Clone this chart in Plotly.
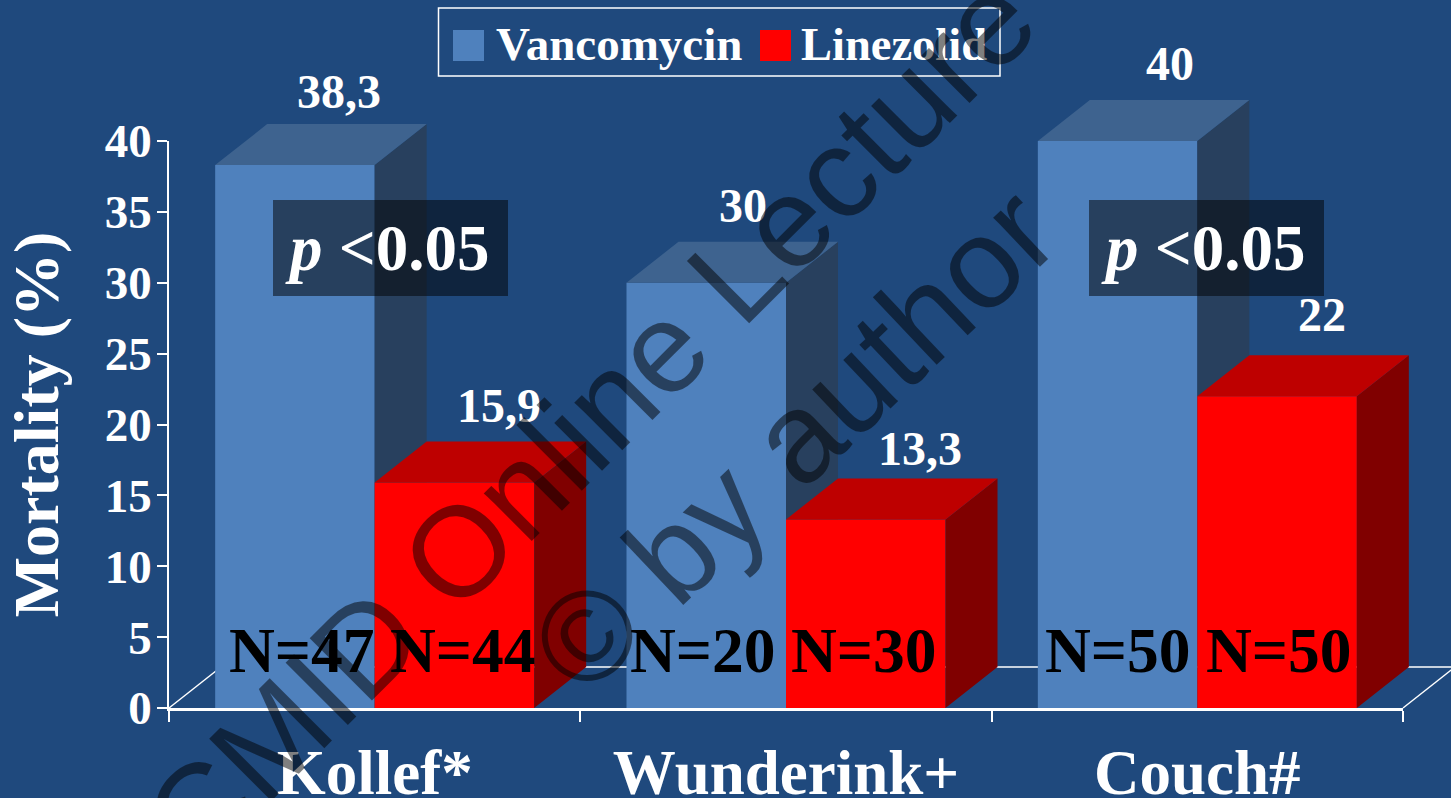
import plotly.graph_objects as go

# Study results
studies = ["Kollef*", "Wunderink+", "Couch#"]
vancomycin = [38.3, 30, 40]
linezolid = [15.9, 13.3, 22]
n_vancomycin = [47, 20, 50]
n_linezolid = [44, 30, 50]
y_ticks = [0, 5, 10, 15, 20, 25, 30, 35, 40]

# Page geometry in pixels
W, H = 1451, 798
LEFT, RIGHT, TOP, BOTTOM = 169, 1403, 141, 708
PLOT_W, PLOT_H = RIGHT - LEFT, BOTTOM - TOP
PX_X = PLOT_W / 3
PX_Y = PLOT_H / 40

# Pseudo-3D extrusion of the columns, in axis units
BAR_W = 159.5 / PX_X
DEPTH_X = 52 / PX_X
DEPTH_Y = 41 / PX_Y
centers = [0.5, 1.5, 2.5]

SERIF = "Liberation Serif"
BG = "#1F497D"
SHADE = "rgba(0,0,0,0.5)"

# The column layers span the whole page at the same scale as the visible axes,
# so the extruded tops and the labels above them are not clipped at the 40 line.
PAGE_X_RANGE = [-LEFT / PX_X, (W - LEFT) / PX_X]
PAGE_Y_RANGE = [-(H - BOTTOM) / PX_Y, BOTTOM / PX_Y]


def to_x(px):
    return (px - LEFT) / PX_X


def to_y(py):
    return (BOTTOM - py) / PX_Y


def face_outlines(values, offset):
    """Return closed side and top outlines for a row of extruded columns."""
    side_x, side_y, top_x, top_y = [], [], [], []
    for c, v in zip(centers, values):
        x0 = c + offset
        x1 = x0 + BAR_W
        side_x += [x1, x1 + DEPTH_X, x1 + DEPTH_X, x1, x1, None]
        side_y += [0, DEPTH_Y, v + DEPTH_Y, v, 0, None]
        top_x += [x0, x1, x1 + DEPTH_X, x0 + DEPTH_X, x0, None]
        top_y += [v, v, v + DEPTH_Y, v + DEPTH_Y, v, None]
    return side_x, side_y, top_x, top_y


def add_column_row(fig, values, offset, front, top, side, xa, ya, name):
    fig.add_trace(go.Bar(x=centers, y=values, width=BAR_W, offset=offset, name=name,
                         marker=dict(color=front, line_width=0),
                         showlegend=False, hoverinfo="skip", xaxis=xa, yaxis=ya))
    sx, sy, tx, ty = face_outlines(values, offset)
    for fx, fy, colour in ((sx, sy, side), (tx, ty, top)):
        fig.add_trace(go.Scatter(x=fx, y=fy, mode="lines", fill="toself", fillcolor=colour,
                                 line=dict(width=0, color=colour),
                                 showlegend=False, hoverinfo="skip", xaxis=xa, yaxis=ya))


fig = go.Figure()
add_column_row(fig, vancomycin, -BAR_W, "#4F81BD", "#3E638F", "#28405E", "x", "y", "Vancomycin")
# Linezolid sits on an overlaid axis pair so its columns cover the vancomycin side walls
add_column_row(fig, linezolid, 0, "#FF0000", "#BE0000", "#800000", "x2", "y2", "Linezolid")
# Placeholder so the visible axis pair gets a subplot of its own
fig.add_trace(go.Scatter(x=[0], y=[0], mode="markers", marker=dict(opacity=0),
                         showlegend=False, hoverinfo="skip", xaxis="x3", yaxis="y3"))

annotations = []


def text(x, y, s, size, color="white", anchor="center", xshift=0, yshift=0):
    annotations.append(dict(xref="x", yref="y", x=x, y=y, text=f"<b>{s}</b>", showarrow=False,
                            xanchor=anchor, yanchor="middle", xshift=xshift, yshift=yshift,
                            font=dict(family=SERIF, size=size, color=color)))


# Value labels sit above the back edge of each column
value_nudge_v = [(44, 33), (37, 36), (52, 37)]
value_nudge_l = [(45, 36), (54, 30), (45, 41)]
for values, offset, nudges in ((vancomycin, -BAR_W, value_nudge_v), (linezolid, 0, value_nudge_l)):
    for c, v, (dx, dy) in zip(centers, values, nudges):
        text(c + offset + BAR_W / 2, v + DEPTH_Y, str(v).replace(".", ","), 48,
             xshift=dx, yshift=dy)

# Sample sizes across the foot of each column
n_nudge = [7, -3, 0]
for c, nv, nl, dx in zip(centers, n_vancomycin, n_linezolid, n_nudge):
    text(c - BAR_W / 2, to_y(650), f"N={nv}", 63.5, color="black", xshift=dx)
    text(c + BAR_W / 2, to_y(650), f"N={nl}", 63.5, color="black", xshift=dx + 1.5)

# Significance call-outs: a dark plate with the test result on it
call_out_centers = [390.5, 1206.5]
for cx in call_out_centers:
    text(to_x(cx - 3.5), to_y(248), "<i>p</i> &lt;0.05", 65)

# Legend entries
text(to_x(494), to_y(44), "Vancomycin", 47, anchor="left")
text(to_x(799), to_y(44), "Linezolid", 46.5, anchor="left")

# Copyright overlay, painted last so it darkens everything beneath it
for cx, cy, s, angle in ((589, 420, "CMID Online Lecture", -45), (793, 439, "© by author", -43.5)):
    annotations.append(dict(xref="x", yref="y", x=to_x(cx), y=to_y(cy), text=s,
                            showarrow=False, textangle=angle, xanchor="center", yanchor="middle",
                            font=dict(family="Liberation Sans", size=128, color=SHADE)))

LINE = dict(color="white", width=1.5)
shapes = [
    # Floor of the chart box
    dict(type="line", xref="x", yref="y", layer="below", x0=0, y0=0, x1=DEPTH_X, y1=DEPTH_Y, line=LINE),
    dict(type="line", xref="x", yref="y", layer="below", x0=DEPTH_X, y0=DEPTH_Y,
         x1=3 + DEPTH_X, y1=DEPTH_Y, line=LINE),
    dict(type="line", xref="x", yref="y", layer="below", x0=3, y0=0,
         x1=3 + DEPTH_X, y1=DEPTH_Y, line=LINE),
    # Legend frame and swatches
    dict(type="rect", xref="x", yref="y", layer="above", x0=to_x(438.5), x1=to_x(1000),
         y0=to_y(8), y1=to_y(76), line=LINE),
    dict(type="rect", xref="x", yref="y", layer="above", x0=to_x(453), x1=to_x(484),
         y0=to_y(30), y1=to_y(61), fillcolor="#4F81BD", line_width=0),
    dict(type="rect", xref="x", yref="y", layer="above", x0=to_x(760), x1=to_x(791),
         y0=to_y(30), y1=to_y(61), fillcolor="#FF0000", line_width=0),
]
for cx in call_out_centers:
    shapes.append(dict(type="rect", xref="x", yref="y", layer="above",
                       x0=to_x(cx - 117.5), x1=to_x(cx + 117.5), y0=to_y(200), y1=to_y(296),
                       fillcolor=SHADE, line_width=0))

fig.update_layout(
    width=W, height=H, autosize=False,
    margin=dict(l=0, r=0, t=0, b=0, pad=0, autoexpand=False),
    paper_bgcolor=BG, plot_bgcolor="rgba(0,0,0,0)",
    barmode="overlay", showlegend=False,
    annotations=annotations, shapes=shapes,
    xaxis=dict(range=PAGE_X_RANGE, domain=[0, 1], visible=False),
    yaxis=dict(range=PAGE_Y_RANGE, domain=[0, 1], visible=False),
    xaxis2=dict(range=PAGE_X_RANGE, overlaying="x", visible=False),
    yaxis2=dict(range=PAGE_Y_RANGE, overlaying="y", visible=False),
    xaxis3=dict(range=[0, 3], domain=[LEFT / W, RIGHT / W], anchor="y3", tickmode="array",
                tickvals=centers, ticktext=[f"<b>{s}</b>" for s in studies],
                tickfont=dict(family=SERIF, size=63, color="white"),
                ticks="outside", ticklen=8, tickcolor="rgba(0,0,0,0)",
                minor=dict(tickmode="array", tickvals=[0, 1, 2, 3], ticks="outside", ticklen=11,
                           tickwidth=1.5, tickcolor="white", showgrid=False),
                showline=True, linecolor="white", linewidth=2.5, showgrid=False, zeroline=False),
    yaxis3=dict(range=[0, 40], domain=[(H - BOTTOM) / H, (H - TOP) / H], anchor="x3",
                tickmode="array", tickvals=y_ticks, ticktext=[f"<b>{t}</b>" for t in y_ticks],
                tickfont=dict(family=SERIF, size=47, color="white"), ticklabelstandoff=-4,
                ticks="outside", ticklen=10, tickwidth=1.5, tickcolor="white",
                showline=True, linecolor="white", linewidth=1.5, showgrid=False, zeroline=False,
                title=dict(text="<b>Mortality (%)</b>",
                           font=dict(family=SERIF, size=64, color="white"), standoff=25)),
)

fig.write_html("out.html", config=dict(displayModeBar=False))
